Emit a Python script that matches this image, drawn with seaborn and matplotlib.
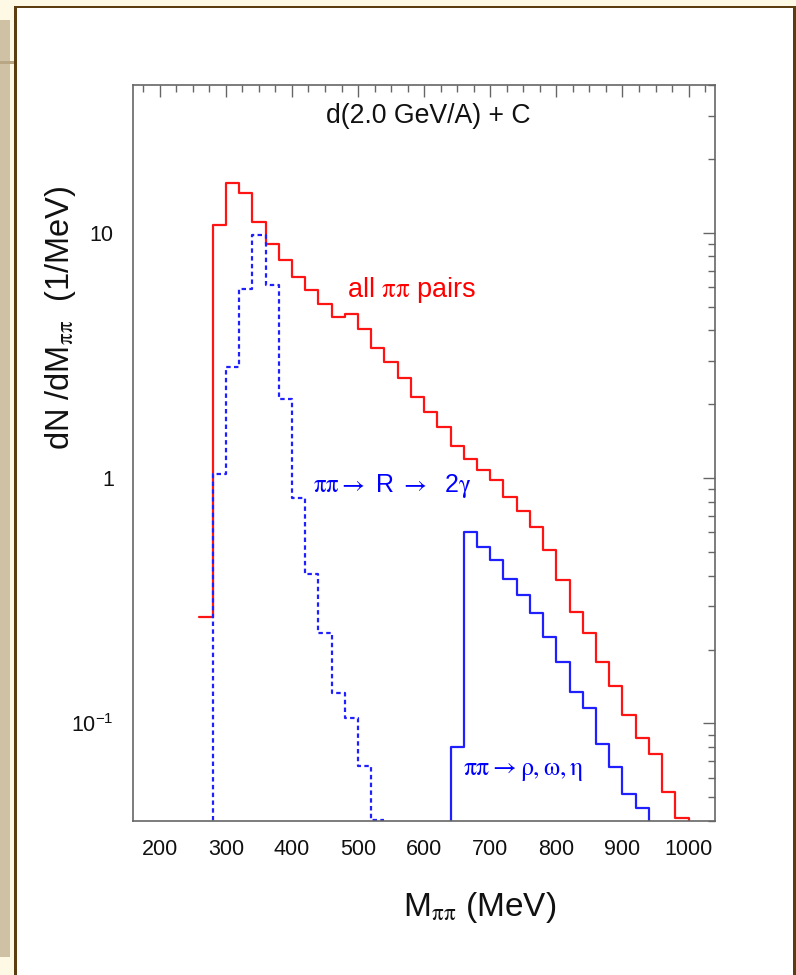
import matplotlib
matplotlib.use("Agg")
import numpy as np
import pandas as pd
import matplotlib.pyplot as plt
import matplotlib.ticker as mticker
from matplotlib.patches import Rectangle
import seaborn as sns

# ---------------- data (20 MeV bins, value = dN/dM in 1/MeV) ----------------
bin_width = 20
all_start = 260
all_pairs = [0.272, 10.75, 15.9, 14.5, 11.1, 9.0, 7.74, 6.58, 5.84, 5.12, 4.54,
             4.66, 4.04, 3.38, 2.96, 2.56, 2.14, 1.85, 1.62, 1.35, 1.20, 1.08,
             0.98, 0.84, 0.736, 0.633, 0.509, 0.384, 0.284, 0.233, 0.178, 0.142,
             0.108, 0.0869, 0.0748, 0.0526, 0.041]
res_start = 280
res_2gamma = [1.04, 2.83, 5.88, 9.78, 6.12, 2.09, 0.826, 0.406, 0.233, 0.133,
              0.105, 0.067, 0.0405]
vec_start = 640
vec_mesons = [0.0802, 0.604, 0.5215, 0.463, 0.386, 0.334, 0.281, 0.224, 0.178,
              0.134, 0.115, 0.0823, 0.0661, 0.0515, 0.045]

x_ticks = [200, 300, 400, 500, 600, 700, 800, 900, 1000]
y_ticks = [0.1, 1, 10]
y_ticklabels = [r"$10^{-1}$", "1", "10"]

FLOOR = 1e-4


def step_frame(start, vals, rise, drop):
    n = len(vals)
    xs = [start + i * bin_width for i in range(n)] + [start + n * bin_width]
    ys = list(vals) + [FLOOR if drop else vals[-1]]
    if rise:
        xs = [start] + xs
        ys = [FLOOR] + ys
    return pd.DataFrame({"M": xs, "dNdM": ys})


df_all = step_frame(all_start, all_pairs, rise=False, drop=True)
df_res = step_frame(res_start, res_2gamma, rise=True, drop=False)
df_vec = step_frame(vec_start, vec_mesons, rise=True, drop=True)

# ---------------- style ----------------
sns.set_theme(style="white")
plt.rcParams["font.family"] = ["Liberation Sans", "DejaVu Sans"]
plt.rcParams["mathtext.fontset"] = "custom"
plt.rcParams["mathtext.rm"] = "Liberation Sans"
plt.rcParams["mathtext.it"] = "Liberation Sans:italic"
plt.rcParams["mathtext.bf"] = "Liberation Sans:bold"

W, H = 796, 975
fig = plt.figure(figsize=(W / 100, H / 100), dpi=100)
fig.patch.set_facecolor("#fdf9e4")

def px_rect(x0, y0, x1, y1, color):
    fig.add_artist(Rectangle((x0 / W, 1 - y1 / H), (x1 - x0) / W, (y1 - y0) / H,
                             transform=fig.transFigure, facecolor=color,
                             edgecolor="none", zorder=-10))

# page decorations
px_rect(16.5, 8, W, H, "white")
px_rect(0, 20, 10, 957, "#cfc1a3")
px_rect(0, 61, 15, 63.5, "#b9a684")
px_rect(14, 5.5, W, 8, "#5c3d12")
px_rect(14, 5.5, 16.5, H, "#5c3d12")
px_rect(793, 5.5, 795.5, H, "#5c3d12")

ax_l, ax_r, ax_t, ax_b = 133.3, 715.0, 85.0, 821.0
ax = fig.add_axes([ax_l / W, 1 - ax_b / H, (ax_r - ax_l) / W, (ax_b - ax_t) / H])
ax.set_facecolor("white")

lw = 1.6
sns.lineplot(data=df_all, x="M", y="dNdM", estimator=None, sort=False,
             drawstyle="steps-post", color="#ff1414", lw=lw, ax=ax)
sns.lineplot(data=df_res, x="M", y="dNdM", estimator=None, sort=False,
             drawstyle="steps-post", color="#2020ff", lw=lw, ax=ax)
ax.lines[-1].set_linestyle((0, (2.0, 1.5)))
sns.lineplot(data=df_vec, x="M", y="dNdM", estimator=None, sort=False,
             drawstyle="steps-post", color="#2020ff", lw=lw, ax=ax)

ax.set_yscale("log")
ax.set_xlim(160, 1040)
ax.set_ylim(0.04, 40)

ax.xaxis.set_major_locator(mticker.FixedLocator(x_ticks))
ax.xaxis.set_minor_locator(mticker.MultipleLocator(25))
ax.yaxis.set_major_locator(mticker.FixedLocator(y_ticks))
ax.yaxis.set_major_formatter(mticker.FixedFormatter(y_ticklabels))
ax.yaxis.set_minor_locator(mticker.LogLocator(base=10, subs=np.arange(2, 10)))
ax.yaxis.set_minor_formatter(mticker.NullFormatter())

ax.tick_params(which="both", direction="in", top=True, right=True,
               color="#666666", width=1.0, labelsize=15.5, labelcolor="#111111")
ax.tick_params(which="major", length=8.6)
ax.tick_params(which="minor", length=5)
ax.tick_params(axis="x", which="major", pad=13)
ax.tick_params(axis="y", which="major", pad=14)

for s in ax.spines.values():
    s.set_color("#666666")
    s.set_linewidth(1.2)

ax.set_xlabel(r"M$_{\mathrm{\pi\pi}}$ (MeV)", fontsize=24, color="#111111",
              math_fontfamily="stix")
ax.xaxis.set_label_coords((480 - ax_l) / (ax_r - ax_l), -(915.6 - ax_b) / (ax_b - ax_t))
ax.xaxis.label.set_verticalalignment("baseline")

ax.set_ylabel(r"dN /dM$_{\mathrm{\pi\pi}}$  (1/MeV)", fontsize=23.5, color="#111111",
              math_fontfamily="stix")
ax.yaxis.set_label_coords((61 - ax_l) / (ax_r - ax_l), (ax_b - 318) / (ax_b - ax_t))
ax.yaxis.label.set_verticalalignment("center")

def axfrac(xp, yp):
    return (xp - ax_l) / (ax_r - ax_l), (ax_b - yp) / (ax_b - ax_t)

tx, ty = axfrac(428, 123.3)
ax.text(tx, ty, "d(2.0 GeV/A) + C", transform=ax.transAxes, ha="center",
        va="baseline", fontsize=19.2, color="#111111")

tx, ty = axfrac(346.7, 296.7)
ax.text(tx, ty, r"all $\mathrm{\pi\pi}$ pairs", transform=ax.transAxes, ha="left",
        va="baseline", fontsize=19.5, color="#ff0000", math_fontfamily="stix")

tx, ty = axfrac(312.7, 491.7)
ax.text(tx, ty, r"$\mathrm{\pi\pi} \rightarrow$ R $\rightarrow$  2$\mathrm{\gamma}$",
        transform=ax.transAxes, ha="left", va="baseline", fontsize=18,
        color="#0000ff", math_fontfamily="stix")

tx, ty = axfrac(463.3, 775)
ax.text(tx, ty, r"$\mathrm{\pi\pi} \rightarrow \mathrm{\rho,\omega,\eta}$",
        transform=ax.transAxes, ha="left", va="baseline", fontsize=18.5,
        color="#0000ff", math_fontfamily="stix")

fig.savefig("out.png", dpi=100, facecolor=fig.get_facecolor())
